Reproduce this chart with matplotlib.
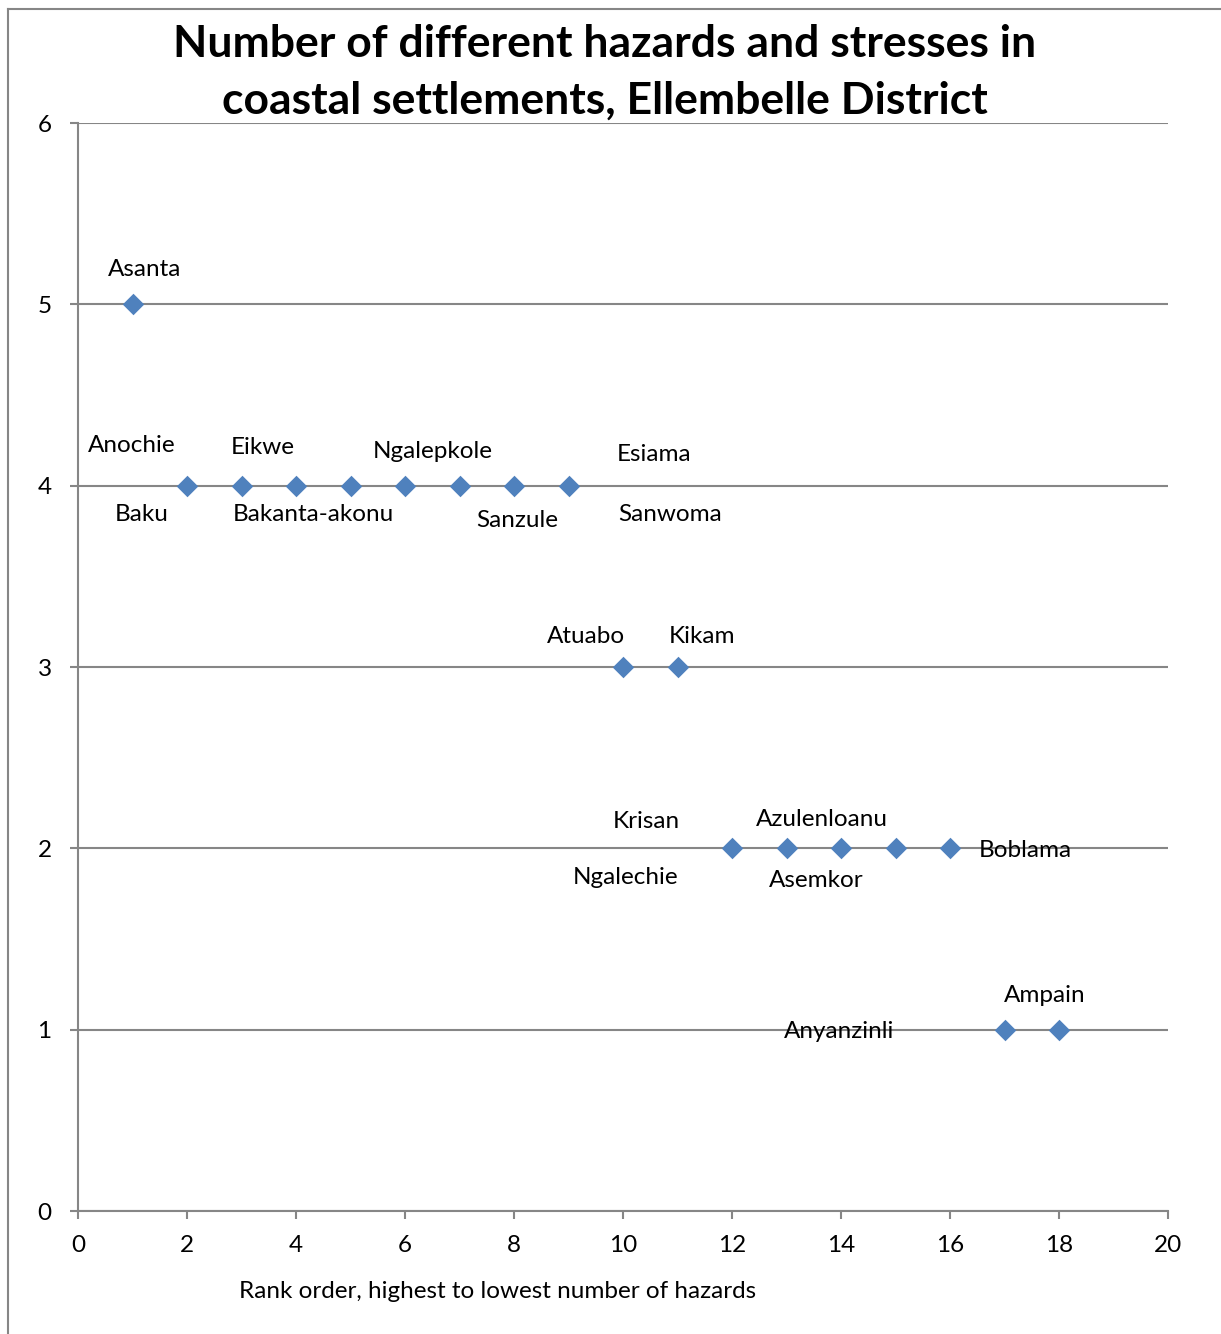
import matplotlib
matplotlib.use("Agg")
import matplotlib.pyplot as plt
from matplotlib.lines import Line2D

plt.rcParams['font.family'] = ['Lato', 'DejaVu Sans']

# rank order and number of hazards/stresses
rank = [1, 2, 3, 4, 5, 6, 7, 8, 9, 10, 11, 12, 13, 14, 15, 16, 17, 18]
hazards = [5, 4, 4, 4, 4, 4, 4, 4, 4, 3, 3, 2, 2, 2, 2, 2, 1, 1]

# settlement labels, as placed on the chart
names = ['Asanta', 'Anochie', 'Baku', 'Eikwe', 'Bakanta-akonu', 'Ngalepkole',
         'Sanzule', 'Esiama', 'Sanwoma', 'Atuabo', 'Kikam', 'Krisan',
         'Ngalechie', 'Azulenloanu', 'Asemkor', 'Boblama', 'Anyanzinli', 'Ampain']
label_x = [1.22, 0.99, 1.17, 3.39, 4.31, 6.51, 8.06, 10.57, 10.86, 9.32, 11.45,
           10.42, 10.04, 13.65, 13.54, 17.39, 13.96, 17.74]
label_y = [5.19, 4.22, 3.84, 4.21, 3.84, 4.19, 3.81, 4.17, 3.84, 3.17, 3.17,
           2.15, 1.84, 2.16, 1.82, 1.99, 0.99, 1.19]

title_lines = ['Number of different hazards and stresses in',
               'coastal settlements, Ellembelle District']

grey = '#868686'

fig = plt.figure(figsize=(12.21, 13.34), dpi=100)
ax = fig.add_axes([78 / 1221, 1 - 1211 / 1334, 1090 / 1221, 1088 / 1334])

ax.scatter(rank, hazards, marker='D', s=120, color='#4F81BD', zorder=3,
           linewidths=0)

for name, lx, ly in zip(names, label_x, label_y):
    ax.text(lx, ly, name, ha='center', va='center', fontsize=17.5, zorder=4)

ax.set_xlim(0, 20)
ax.set_ylim(0, 6)
ax.set_xticks(range(0, 21, 2))
ax.set_yticks(range(0, 7))
ax.yaxis.grid(True, color=grey, linewidth=1.5)
ax.set_axisbelow(True)
for side in ['top', 'right']:
    ax.spines[side].set_visible(False)
for side in ['left', 'bottom']:
    ax.spines[side].set_color(grey)
    ax.spines[side].set_linewidth(1.5)
ax.tick_params(axis='x', direction='out', length=6, width=1.5, color=grey,
               labelsize=17.5, pad=11)
ax.tick_params(axis='y', direction='out', length=6, width=1.5, color=grey,
               labelsize=17.5, pad=13)
ax.set_xlabel('Rank order, highest to lowest number of hazards', fontsize=17.5,
              labelpad=16)
ax.xaxis.set_label_coords((498 - 78) / 1090, -(1291 - 1211) / 1088)
ax.xaxis.label.set_va('center')

fig.text(605 / 1221, 1 - 44 / 1334, title_lines[0], ha='center', va='center',
         fontsize=32, fontweight='bold')
fig.text(605 / 1221, 1 - 101 / 1334, title_lines[1], ha='center', va='center',
         fontsize=32, fontweight='bold')

# outer chart frame (left and top edges visible)
fig.add_artist(Line2D([8 / 1221, 8 / 1221], [0, 1 - 9 / 1334], color=grey,
                      linewidth=1.5, transform=fig.transFigure))
fig.add_artist(Line2D([8 / 1221, 1], [1 - 9 / 1334, 1 - 9 / 1334], color=grey,
                      linewidth=1.5, transform=fig.transFigure))

fig.savefig('out.png', dpi=100)
